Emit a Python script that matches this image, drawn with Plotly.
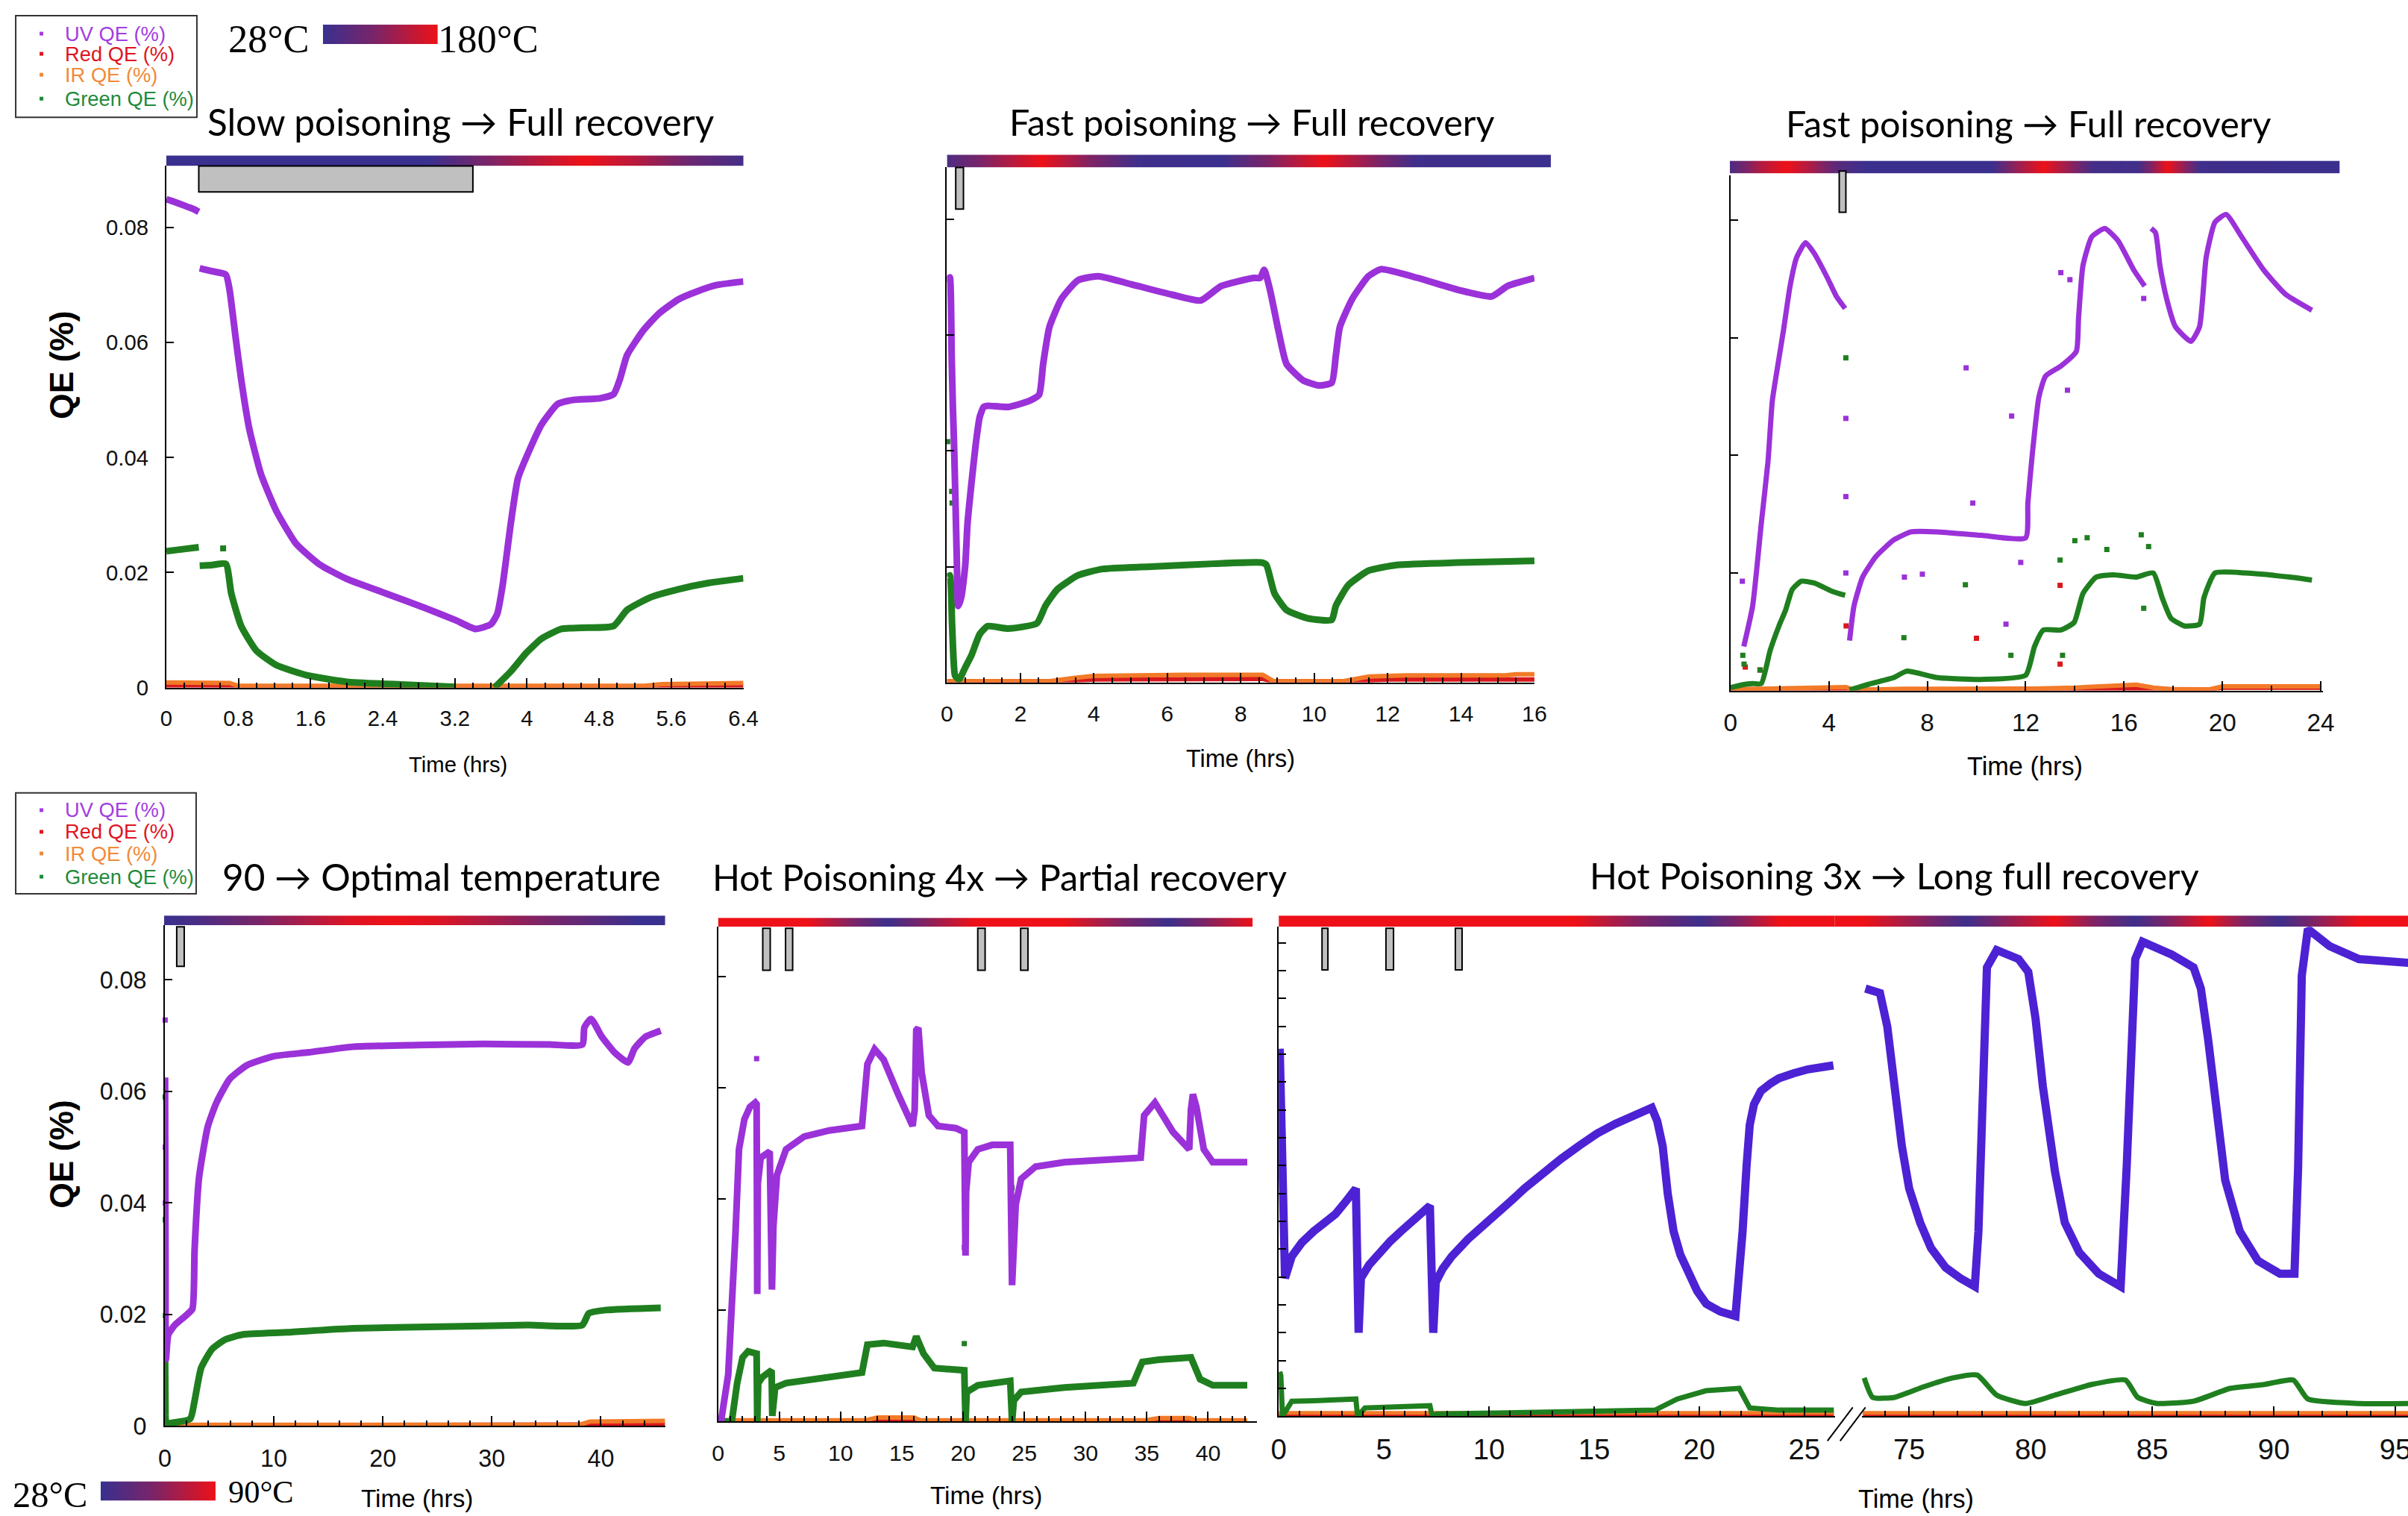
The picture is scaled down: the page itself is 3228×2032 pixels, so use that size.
import plotly.graph_objects as go

# Target picture size and the measured page->picture mapping of the viewer
# (picture = SX*(page_x) , SY*(page_y)); positions below are given in target picture pixels.
W, H = 3228, 2032
SX, SY, OX = 0.991, 0.9895, 8
FW, FH = 3250, 2054
FS = 1.0 / 0.99  # font / size compensation

# ---------------- colours ----------------
UV_COL = "#9b31d9"
UV_COL_F = "#4c22d4"
RED_COL = "#d7191c"
IR_COL = "#f27a28"
GREEN_COL = "#1f7f1f"
TEMP_SCALE = [[0.0, "#39308f"], [0.45, "#7b2468"], [1.0, "#ee1118"]]

# ---------------- data ----------------
# Panel A : Slow poisoning -> Full recovery  (time in hrs, QE in %)
A_UV_T = [0.00, 0.10, 0.20, 0.30, 0.36, None, 0.37, 0.50, 0.66, 0.70, 0.77, 0.83, 0.92, 1.05, 1.22, 1.44,
          1.70, 2.00, 2.43, 2.86, 3.21, 3.43, 3.60, 3.67, 3.73, 3.82, 3.90, 4.03, 4.16, 4.34, 4.51, 4.81,
          4.96, 5.03, 5.11, 5.29, 5.46, 5.68, 5.89, 6.11, 6.40]
A_UV_V = [0.0849, 0.0844, 0.0838, 0.0832, 0.0827, None, 0.0729, 0.0724, 0.0718, 0.0693, 0.0607, 0.0536, 0.0450,
          0.0371, 0.0307, 0.0250, 0.0214, 0.0189, 0.0164, 0.0139, 0.0117, 0.0102, 0.0110, 0.0128, 0.0178,
          0.0285, 0.0364, 0.0414, 0.0457, 0.0493, 0.0500, 0.0503, 0.0510, 0.0536, 0.0578, 0.0621, 0.0650,
          0.0675, 0.0689, 0.0700, 0.0706]
A_GREEN_T = [0.00, 0.15, 0.36, None, 0.37, 0.50, 0.66, 0.72, 0.83, 1.00, 1.22, 1.57, 2.00, 2.65, 3.21, None,
             3.64, 3.82, 3.99, 4.16, 4.38, 4.60, 4.96, 5.11, 5.37, 5.68, 6.02, 6.40]
A_GREEN_V = [0.0237, 0.0240, 0.0244, None, 0.0212, 0.0213, 0.0215, 0.0164, 0.0107, 0.0064, 0.0039, 0.0021,
             0.0010, 0.0005, 0.0001, None, 0.0000, 0.0028, 0.0060, 0.0085, 0.0102, 0.0104, 0.0107, 0.0135,
             0.0157, 0.0171, 0.0182, 0.0190]
A_GREEN_OUT_T = [0.63]
A_GREEN_OUT_V = [0.0242]
A_IR_T = [0.00, 0.70, 0.80, 5.30, 5.50, 6.40]
A_IR_V = [0.0009, 0.0008, 0.0003, 0.0003, 0.0006, 0.0008]
A_RED_T = [0.00, 0.75, 0.80, 5.80, 6.10, 6.40]
A_RED_V = [0.0003, 0.0003, 0.0001, 0.0001, 0.0003, 0.0003]

# Panel B : Fast poisoning -> Full recovery
B_UV_T = [0.02, 0.08, 0.13, 0.16, 0.19, 0.23, 0.27, 0.31, 0.40, 0.50, 0.56, 0.67, 0.78, 0.89, 1.00, 1.11,
          1.67, 2.23, 2.51, 2.62, 2.79, 3.12, 3.57, 4.12, 5.02, 6.13, 6.91, 7.47, 8.36, 8.53, 8.64, 8.80,
          9.03, 9.25, 9.70, 10.14, 10.48, 10.59, 10.70, 11.04, 11.48, 11.82, 12.82, 13.94, 14.83, 15.27, 16.00]
B_UV_V = [0.0692, 0.0700, 0.0560, 0.0480, 0.0420, 0.0320, 0.0210, 0.0132, 0.0150, 0.0203, 0.0274, 0.0345,
          0.0409, 0.0458, 0.0476, 0.0478, 0.0476, 0.0486, 0.0497, 0.0550, 0.0614, 0.0663, 0.0695, 0.0702,
          0.0688, 0.0670, 0.0660, 0.0685, 0.0699, 0.0699, 0.0713, 0.0678, 0.0607, 0.0550, 0.0522, 0.0513,
          0.0518, 0.0564, 0.0614, 0.0663, 0.0702, 0.0714, 0.0699, 0.0678, 0.0667, 0.0685, 0.0699]
B_GREEN_T = [0.02, 0.08, 0.14, 0.18, 0.22, 0.33, 0.50, 0.67, 0.89, 1.11, 1.67, 2.45, 2.68, 3.01, 3.57, 4.24,
             5.57, 7.25, 8.58, 8.70, 8.92, 9.25, 9.81, 10.48, 10.59, 10.93, 11.48, 12.26, 13.94, 16.00]
B_GREEN_V = [0.0182, 0.0185, 0.0100, 0.0040, 0.0012, 0.0005, 0.0026, 0.0047, 0.0083, 0.0097, 0.0093, 0.0102,
             0.0132, 0.0161, 0.0185, 0.0196, 0.0200, 0.0205, 0.0207, 0.0203, 0.0154, 0.0125, 0.0111, 0.0108,
             0.0132, 0.0168, 0.0193, 0.0203, 0.0207, 0.0210]
B_GREEN_OUT_T = [0.02, 0.13, 0.14]
B_GREEN_OUT_V = [0.0416, 0.0330, 0.0310]
B_IR_T = [0.0, 2.8, 3.5, 4.0, 6.5, 8.6, 8.9, 10.8, 11.5, 12.5, 15.2, 15.5, 16.0]
B_IR_V = [0.0002, 0.0002, 0.0008, 0.0011, 0.0013, 0.0013, 0.0002, 0.0002, 0.0010, 0.0012, 0.0012, 0.0014, 0.0014]
B_RED_T = [0.0, 3.0, 4.0, 8.6, 8.9, 11.0, 12.0, 16.0]
B_RED_V = [0.0001, 0.0001, 0.0005, 0.0006, 0.0001, 0.0001, 0.0005, 0.0005]

# Panel C : Fast poisoning -> Full recovery
C_UV_T = [0.54, 0.90, 1.25, 1.52, 1.70, 1.88, 2.15, 2.42, 2.69, 3.05, 3.40, 3.94, 4.30, 4.66, None,
          4.84, 5.02, 5.37, 5.91, 6.63, 7.34, 8.42, 10.21, 12.00, 12.09, 12.27, 12.54, 12.81, 13.43, 14.06,
          14.15, 14.33, 14.69, 15.22, 15.76, 16.39, 16.84, None, 17.10, 17.28, 17.46, 17.73, 18.09, 18.72,
          19.07, 19.34, 19.70, 20.15, 20.78, 21.67, 22.57, 23.64]
C_UV_V = [0.0075, 0.0144, 0.0284, 0.0388, 0.0493, 0.0542, 0.0612, 0.0688, 0.0737, 0.0762, 0.0744, 0.0702,
          0.0671, 0.0650, None, 0.0085, 0.0144, 0.0193, 0.0228, 0.0256, 0.0270, 0.0270, 0.0264, 0.0260,
          0.0319, 0.0402, 0.0500, 0.0535, 0.0552, 0.0577, 0.0633, 0.0723, 0.0772, 0.0786, 0.0765, 0.0716,
          0.0688, None, 0.0786, 0.0779, 0.0723, 0.0667, 0.0619, 0.0594, 0.0619, 0.0737, 0.0797, 0.0810,
          0.0772, 0.0716, 0.0674, 0.0647]
C_UV_OUT_T = [0.48, 4.69, 4.69, 4.69, 7.07, 7.80, 9.58, 9.85, 11.20, 11.43, 11.80, 13.43, 13.70, 13.80, 16.80]
C_UV_OUT_V = [0.0186, 0.0463, 0.0330, 0.0200, 0.0193, 0.0198, 0.0549, 0.0319, 0.0113, 0.0467, 0.0218, 0.0711,
              0.0511, 0.0699, 0.0667]
C_GREEN_T = [0.00, 0.50, 0.90, 1.25, 1.61, 1.97, 2.24, 2.51, 2.87, 3.40, 4.12, 4.66, None,
             4.84, 5.73, 6.63, 7.16, 8.42, 10.21, 12.00, 12.36, 12.72, 13.43, 13.97, 14.33, 14.87, 15.58,
             16.48, 17.19, 17.55, 17.91, 18.45, 19.07, 19.25, 19.70, 20.96, 22.75, 23.64]
C_GREEN_V = [0.0005, 0.0010, 0.0012, 0.0012, 0.0068, 0.0110, 0.0137, 0.0172, 0.0186, 0.0183, 0.0169, 0.0162,
             None, 0.0001, 0.0012, 0.0022, 0.0033, 0.0022, 0.0019, 0.0026, 0.0075, 0.0103, 0.0103, 0.0116,
             0.0165, 0.0193, 0.0197, 0.0193, 0.0200, 0.0158, 0.0123, 0.0110, 0.0113, 0.0158, 0.0200, 0.0200,
             0.0193, 0.0188]
C_GREEN_OUT_T = [0.50, 0.55, 1.20, 4.69, 7.05, 9.55, 11.40, 13.40, 13.50, 14.00, 14.50, 15.30, 16.70, 16.80, 17.00]
C_GREEN_OUT_V = [0.0060, 0.0045, 0.0035, 0.0566, 0.0090, 0.0180, 0.0060, 0.0222, 0.0060, 0.0255, 0.0260,
                 0.0240, 0.0265, 0.0140, 0.0245]
C_IR_T = [0.0, 2.0, 4.7, 5.0, 7.0, 12.0, 14.0, 16.5, 17.2, 18.0, 19.5, 20.0, 24.0]
C_IR_V = [0.0002, 0.0004, 0.0006, 0.0001, 0.0003, 0.0003, 0.0005, 0.0010, 0.0005, 0.0002, 0.0002, 0.0007, 0.0007]
C_RED_T = [0.0, 4.7, 5.0, 12.0, 19.5, 20.0, 24.0]
C_RED_V = [0.0002, 0.0003, 0.0001, 0.0003, 0.0002, 0.0005, 0.0005]
C_RED_OUT_T = [0.60, 1.20, 4.70, 10.00, 13.40, 13.40]
C_RED_OUT_V = [0.0040, 0.0035, 0.0110, 0.0089, 0.0179, 0.0045]

# Panel D : 90 -> Optimal temperature
D_UV_T = [0.02, 0.06, 0.10, 0.32, 0.92, 1.93, 2.53, 2.73, 3.13, 3.94, 4.74, 5.94, 7.55, 9.96, 13.17, 17.19,
          23.20, 29.20, 35.30, 38.30, 38.50, 39.10, 40.10, 41.30, 42.50, 43.10, 44.10, 45.50]
D_UV_V = [0.0625, 0.0300, 0.0120, 0.0164, 0.0181, 0.0198, 0.0210, 0.0316, 0.0444, 0.0537, 0.0580, 0.0622,
          0.0647, 0.0663, 0.0670, 0.0680, 0.0683, 0.0685, 0.0684, 0.0684, 0.0715, 0.0730, 0.0698, 0.0669,
          0.0652, 0.0677, 0.0698, 0.0709]
D_UV_OUT_T = [0.03, 0.04, 0.05]
D_UV_OUT_V = [0.0728, 0.0500, 0.0400]
D_GREEN_T = [0.02, 0.06, 0.10, 0.30, 2.33, 2.73, 3.33, 4.34, 5.54, 7.15, 11.20, 17.20, 25.20, 33.30, 38.30,
             38.90, 40.50, 45.50]
D_GREEN_V = [0.0130, 0.0020, 0.0007, 0.0005, 0.0013, 0.0045, 0.0104, 0.0138, 0.0155, 0.0164, 0.0168, 0.0175,
             0.0178, 0.0181, 0.0181, 0.0202, 0.0208, 0.0212]
D_GREEN_OUT_T = [0.03, 0.04, 0.05]
D_GREEN_OUT_V = [0.0590, 0.0370, 0.0198]
D_IR_T = [0.0, 38.0, 39.0, 45.9]
D_IR_V = [0.0002, 0.0002, 0.0008, 0.0009]
D_RED_T = [0.0, 38.0, 39.0, 45.9]
D_RED_V = [0.0001, 0.0001, 0.0003, 0.0003]

# Panel E : Hot poisoning 4x -> Partial recovery
E_UV_T = [0.24, 0.83, 1.42, 1.71, 2.15, 2.60, 3.04, 3.15, 3.20, 3.25, 3.48, 3.93, 4.22, 4.40, 4.52, 4.81,
          5.55, 7.03, 9.09, 11.75, 12.19, 12.78, 13.52, 14.70, 15.88, 16.05, 16.18, 16.35, 16.62, 17.21,
          17.95, 19.42, 20.10, 20.20, 20.25, 20.46, 21.20, 22.38, 23.85, 24.00, 24.30, 24.74, 25.92, 28.28,
          31.20, 34.50, 34.78, 35.66, 37.14, 38.46, 38.60, 38.76, 39.05, 39.65, 40.38, 43.20]
E_UV_V = [0.0000, 0.0084, 0.0336, 0.0489, 0.0543, 0.0565, 0.0573, 0.0570, 0.0229, 0.0428, 0.0474, 0.0481,
          0.0485, 0.0237, 0.0351, 0.0443, 0.0489, 0.0512, 0.0523, 0.0531, 0.0642, 0.0669, 0.0650, 0.0588,
          0.0531, 0.0560, 0.0703, 0.0707, 0.0627, 0.0550, 0.0531, 0.0527, 0.0520, 0.0298, 0.0413, 0.0466,
          0.0489, 0.0497, 0.0497, 0.0245, 0.0390, 0.0436, 0.0458, 0.0466, 0.0470, 0.0474, 0.0550, 0.0573,
          0.0520, 0.0489, 0.0560, 0.0588, 0.0565, 0.0489, 0.0466, 0.0466]
E_UV_OUT_T = [3.15, 20.10]
E_UV_OUT_V = [0.0652, 0.0313]
E_GREEN_T = [0.00, 1.12, 1.56, 2.00, 2.45, 3.15, 3.20, 3.28, 3.63, 4.37, 4.43, 4.66, 5.55, 7.62, 11.75,
             12.19, 13.52, 15.88, 16.18, 16.77, 17.65, 20.10, 20.20, 20.30, 21.20, 23.85, 24.00, 24.15, 24.74,
             28.28, 33.90, 34.63, 35.96, 38.60, 39.35, 40.38, 43.20]
E_GREEN_V = [0.0000, 0.0000, 0.0069, 0.0115, 0.0126, 0.0122, 0.0000, 0.0069, 0.0080, 0.0092, 0.0010, 0.0061,
             0.0069, 0.0076, 0.0088, 0.0138, 0.0141, 0.0134, 0.0153, 0.0122, 0.0096, 0.0092, 0.0000, 0.0053,
             0.0065, 0.0073, 0.0000, 0.0038, 0.0053, 0.0061, 0.0069, 0.0107, 0.0111, 0.0115, 0.0076, 0.0065,
             0.0065]
E_GREEN_OUT_T = [3.15, 4.30, 20.10, 24.00]
E_GREEN_OUT_V = [0.0569, 0.0367, 0.0140, 0.0420]
E_IR_T = [0.0, 12.0, 13.0, 16.0, 16.5, 34.8, 36.0, 38.5, 39.0, 43.2]
E_IR_V = [0.0002, 0.0002, 0.0007, 0.0007, 0.0002, 0.0002, 0.0006, 0.0006, 0.0002, 0.0002]
E_RED_T = [0.0, 12.0, 13.0, 16.0, 16.5, 34.8, 36.0, 38.5, 39.0, 43.2]
E_RED_V = [0.0001, 0.0001, 0.0004, 0.0004, 0.0001, 0.0001, 0.0003, 0.0003, 0.0001, 0.0001]

# Panel F : Hot poisoning 3x -> Long full recovery (broken time axis)
F_UV_T = [0.05, 0.10, 0.20, 0.30, 0.62, 1.10, 1.66, 2.20, 2.70, 3.20, 3.67, 3.80, 3.91, 4.30, 4.77, 5.30,
          5.81, 6.50, 7.19, 7.35, 7.47, 7.80, 8.23, 9.00, 9.96, 11.00, 11.69, 12.50, 13.42, 14.30, 15.15,
          16.00, 16.87, 17.74, 18.00, 18.26, 18.50, 18.78, 19.10, 19.47, 19.90, 20.33, 21.00, 21.72, 21.90,
          22.06, 22.25, 22.40, 22.60, 22.93, 23.40, 23.79, 24.50, 25.17, 26.38]
F_UV_V = [0.0660, 0.0600, 0.0400, 0.0248, 0.0287, 0.0312, 0.0332, 0.0348, 0.0363, 0.0386, 0.0409, 0.0150,
          0.0248, 0.0272, 0.0294, 0.0314, 0.0332, 0.0355, 0.0378, 0.0150, 0.0241, 0.0265, 0.0287, 0.0318,
          0.0348, 0.0385, 0.0409, 0.0435, 0.0462, 0.0486, 0.0508, 0.0525, 0.0539, 0.0554, 0.0530, 0.0485,
          0.0400, 0.0332, 0.0290, 0.0256, 0.0225, 0.0202, 0.0188, 0.0180, 0.0250, 0.0332, 0.0450, 0.0523,
          0.0560, 0.0584, 0.0598, 0.0607, 0.0616, 0.0623, 0.0630]
F_UV_LATE_T = [73.20, 73.80, 74.10, 74.40, 74.70, 75.00, 75.45, 75.90, 76.50, 77.10, 77.70, 77.85, 78.00,
               78.20, 78.60, 79.50, 79.90, 80.20, 80.50, 81.00, 81.40, 82.00, 82.80, 83.70, 83.95, 84.30,
               84.60, 85.80, 86.70, 87.00, 87.30, 87.60, 88.00, 88.60, 89.35, 90.25, 90.85, 91.00, 91.15,
               91.40, 92.30, 93.50, 94.70, 95.60]
F_UV_LATE_V = [0.0768, 0.0760, 0.0700, 0.0592, 0.0485, 0.0409, 0.0348, 0.0302, 0.0267, 0.0248, 0.0233,
               0.0332, 0.0560, 0.0806, 0.0837, 0.0821, 0.0798, 0.0714, 0.0592, 0.0439, 0.0348, 0.0294,
               0.0256, 0.0233, 0.0450, 0.0821, 0.0852, 0.0829, 0.0806, 0.0768, 0.0676, 0.0562, 0.0424,
               0.0332, 0.0279, 0.0256, 0.0256, 0.0447, 0.0791, 0.0875, 0.0844, 0.0821, 0.0818, 0.0814]
F_GREEN_T = [0.05, 0.10, 0.18, 0.62, 1.66, 3.67, 3.75, 4.10, 7.19, 7.30, 7.50, 13.42, 17.90, 18.95, 20.33,
             21.90, 22.40, 23.80, 26.40]
F_GREEN_V = [0.0080, 0.0073, 0.0000, 0.0027, 0.0028, 0.0031, 0.0000, 0.0015, 0.0019, 0.0000, 0.0004, 0.0008,
             0.0011, 0.0031, 0.0046, 0.0050, 0.0015, 0.0011, 0.0011]
F_GREEN_LATE_T = [73.15, 73.50, 74.40, 75.60, 76.80, 77.80, 78.60, 79.80, 81.00, 82.50, 83.90, 84.40, 85.20,
                  86.70, 88.20, 89.60, 90.80, 91.40, 93.50, 95.60]
F_GREEN_LATE_V = [0.0069, 0.0034, 0.0034, 0.0053, 0.0069, 0.0074, 0.0038, 0.0023, 0.0038, 0.0057, 0.0065,
                  0.0034, 0.0023, 0.0027, 0.0050, 0.0057, 0.0065, 0.0031, 0.0023, 0.0023]
F_IR_T = [0.0, 26.4]
F_IR_V = [0.0006, 0.0006]
F_IR_LATE_T = [73.1, 95.6]
F_IR_LATE_V = [0.0006, 0.0006]
F_RED_T = [0.0, 26.4]
F_RED_V = [0.0003, 0.0003]
F_RED_LATE_T = [73.1, 95.6]
F_RED_LATE_V = [0.0003, 0.0003]

# Temperature strips (time in hrs, temperature in deg C)
A_TEMP_T = [0.0, 2.9, 3.5, 4.2, 4.64, 5.2, 5.8, 6.4]
A_TEMP_C = [28, 28, 90, 150, 180, 140, 80, 40]
B_TEMP_T = [0.0, 1.2, 2.56, 3.9, 5.2, 7.5, 8.6, 10.26, 11.7, 12.8, 16.45]
B_TEMP_C = [50, 110, 180, 100, 35, 30, 90, 180, 100, 35, 30]
C_TEMP_T = [0.0, 1.3, 2.3, 3.3, 4.4, 5.5, 10.6, 11.5, 12.7, 13.8, 14.7, 16.5, 17.7, 18.6, 19.0, 24.7]
C_TEMP_C = [50, 140, 180, 130, 60, 30, 30, 110, 180, 110, 40, 35, 180, 90, 35, 30]
D_TEMP_T = [0.0, 3.0, 10.0, 17.0, 21.0, 25.0, 35.0, 42.5, 43.0, 45.9]
D_TEMP_C = [28, 35, 60, 85, 90, 85, 55, 32, 28, 28]
E_TEMP_T = [0.0, 7.3, 10.6, 13.8, 17.1, 20.9, 28.3, 32.7, 36.8, 40.1, 43.7]
E_TEMP_C = [90, 90, 60, 30, 60, 90, 90, 60, 30, 60, 90]
F_TEMP_T = [0.0, 14.1, 16.9, 20.0, 22.0, 23.8, 27.1]
F_TEMP_C = [90, 90, 60, 30, 60, 90, 90]
F_TEMP_LATE_T = [72.0, 73.2, 75.6, 77.4, 78.9, 81.0, 82.5, 84.3, 85.8, 87.3, 88.6, 90.2, 91.8, 93.5, 95.6]
F_TEMP_LATE_C = [90, 90, 60, 30, 60, 90, 60, 30, 60, 90, 60, 30, 60, 90, 90]
TOP_TEMP_RANGE = [28, 180]
BOTTOM_TEMP_RANGE = [28, 90]

# Poisoning (gas exposure) intervals, hrs
A_POISON = [(0.36, 3.40)]
B_POISON = [(0.24, 0.45)]
C_POISON = [(4.42, 4.69)]
D_POISON = [(1.09, 1.78)]
E_POISON = [(3.65, 4.26), (5.51, 6.09), (21.2, 21.8), (24.7, 25.3)]
F_POISON = [(2.06, 2.34), (5.10, 5.46), (8.40, 8.72)]

# Tick values / labels
A_XTICKS = [0, 0.8, 1.6, 2.4, 3.2, 4, 4.8, 5.6, 6.4]
A_XLABELS = ["0", "0.8", "1.6", "2.4", "3.2", "4", "4.8", "5.6", "6.4"]
B_XTICKS = [0, 2, 4, 6, 8, 10, 12, 14, 16]
C_XTICKS = [0, 4, 8, 12, 16, 20, 24]
D_XTICKS = [0, 10, 20, 30, 40]
E_XTICKS = [0, 5, 10, 15, 20, 25, 30, 35, 40]
F_XTICKS = [0, 5, 10, 15, 20, 25]
F_LATE_XTICKS = [75, 80, 85, 90, 95]
QE_YTICKS = [0, 0.02, 0.04, 0.06, 0.08]
QE_YLABELS = ["0", "0.02", "0.04", "0.06", "0.08"]

SERIES_NAMES = ["UV QE (%)", "Red QE (%)", "IR QE (%)", "Green QE (%)"]
SERIES_TEXT_COLS = ["#a23ee0", "#e0141e", "#f08a3a", "#1f8a3a"]

# ---------------- helpers ----------------
fig = go.Figure()
layout = {}


def sfx(n):
    return "" if n == 1 else str(n)


def fx(px):
    return min(1.0, max(0.0, (px / SX - OX) / FW))


def fy(py):
    return min(1.0, max(0.0, 1 - (py / SY) / FH))


def xdom(a, b):
    return [fx(a), fx(b)]


def ydom(top, bottom):
    return [fy(bottom), fy(top)]


def fsz(s):
    return round(s * FS, 1)


AX_BASE = dict(showline=True, linecolor="black", linewidth=2, ticks="inside", tickcolor="black",
               tickwidth=2, showgrid=False, zeroline=False, fixedrange=True)


def panel(n, xpx, ypx, xr, yr, xticks, xlabels, minor_dt, yticks, ylabels, fsize, show_y=True,
          xstandoff=10):
    xa = dict(AX_BASE, domain=xdom(*xpx), range=xr, anchor="y" + sfx(n), tickvals=xticks,
              ticktext=xlabels, ticklen=13,
              tickfont=dict(family="Liberation Sans, Arial", size=fsz(fsize), color="#111"),
              ticklabelstandoff=xstandoff,
              minor=dict(dtick=minor_dt, ticks="inside", ticklen=7, tickcolor="black", tickwidth=1.5,
                         showgrid=False))
    ya = dict(AX_BASE, domain=ydom(*ypx), range=yr, anchor="x" + sfx(n), ticklen=10,
              tickfont=dict(family="Liberation Sans, Arial", size=fsz(fsize), color="#111"),
              ticklabelstandoff=16)
    if show_y:
        ya.update(tickvals=yticks, ticktext=ylabels if ylabels else None,
                  showticklabels=ylabels is not None)
    else:
        ya.update(showline=False, ticks="", showticklabels=False)
    layout["xaxis" + sfx(n)] = xa
    layout["yaxis" + sfx(n)] = ya


def hidden_axes(n, xpx, ypx, xr, yr):
    layout["xaxis" + sfx(n)] = dict(domain=xdom(*xpx), range=xr, visible=False, fixedrange=True,
                                    anchor="y" + sfx(n))
    layout["yaxis" + sfx(n)] = dict(domain=ydom(*ypx), range=yr, visible=False, fixedrange=True,
                                    anchor="x" + sfx(n))


def line(n, t, v, color, width=9, smooth=True):
    ln = dict(color=color, width=width)
    if smooth:
        ln.update(shape="spline", smoothing=0.5)
    fig.add_trace(go.Scatter(x=t, y=v, mode="lines", line=ln,
                             connectgaps=False, hoverinfo="skip", showlegend=False,
                             xaxis="x" + sfx(n), yaxis="y" + sfx(n)))


def dots(n, t, v, color, size=7):
    fig.add_trace(go.Scatter(x=t, y=v, mode="markers",
                             marker=dict(color=color, size=size, symbol="square", line=dict(width=0)),
                             hoverinfo="skip", showlegend=False, cliponaxis=False,
                             xaxis="x" + sfx(n), yaxis="y" + sfx(n)))


def strip(n, t, temps, trange):
    fig.add_trace(go.Heatmap(x=t, y=[0, 1], z=[temps, temps], zsmooth="best", colorscale=TEMP_SCALE,
                             zmin=trange[0], zmax=trange[1], showscale=False, hoverinfo="skip",
                             xaxis="x" + sfx(n), yaxis="y" + sfx(n)))


shapes = []
annotations = []


def poison_boxes(n, intervals, ybot, ytop):
    for (a, b) in intervals:
        shapes.append(dict(type="rect", xref="x" + sfx(n), yref="y" + sfx(n) + " domain",
                           x0=a, x1=b, y0=ybot, y1=ytop, fillcolor="#c0c0c0",
                           line=dict(color="black", width=2), layer="above"))


def text(x, y, s, size, family="Liberation Sans, Arial", color="black", angle=0, xanchor="center",
         bold=False):
    annotations.append(dict(x=fx(x), y=fy(y), xref="paper", yref="paper",
                            text=("<b>%s</b>" % s) if bold else s,
                            showarrow=False, xanchor=xanchor, yanchor="middle", textangle=angle,
                            font=dict(family=family, size=fsz(size), color=color)))


# ---------------- panels ----------------
panel(1, (220, 994), (222, 920), [0, 6.4], [0, 0.0907], A_XTICKS, A_XLABELS, 0.2, QE_YTICKS, QE_YLABELS, 29,
      xstandoff=14)
panel(2, (1267, 2055), (224, 913), [0, 16], [0, 0.0890], B_XTICKS, [str(v) for v in B_XTICKS], 0.5,
      QE_YTICKS, None, 30, xstandoff=14)
panel(3, (2318, 3113), (235, 924), [0, 24.1], [0, 0.0876], C_XTICKS, [str(v) for v in C_XTICKS], 2,
      QE_YTICKS, None, 33, xstandoff=12)
panel(4, (218, 889), (1238, 1908), [0, 45.9], [0, 0.0898], D_XTICKS, [str(v) for v in D_XTICKS], 2,
      QE_YTICKS, QE_YLABELS, 32, xstandoff=14)
panel(5, (960, 1683), (1240, 1902), [0, 44.0], [0, 0.0889], E_XTICKS, [str(v) for v in E_XTICKS], 1,
      QE_YTICKS, None, 30, xstandoff=14)
F_YTICKS = [i * 0.005 for i in range(18)]
panel(6, (1712, 2458), (1240, 1895), [0, 26.45], [0, 0.0879], F_XTICKS, [str(v) for v in F_XTICKS], 1,
      F_YTICKS, None, 38, xstandoff=10)
panel(7, (2494, 3228), (1240, 1895), [73.05, 95.56], [0, 0.0879], F_LATE_XTICKS,
      [str(v) for v in F_LATE_XTICKS], 1, F_YTICKS, None, 38, show_y=False, xstandoff=10)

# strips and colour legends
hidden_axes(8, (220, 994), (208, 222), [A_TEMP_T[0], A_TEMP_T[-1]], [0, 1])
hidden_axes(9, (1267, 2077), (207, 224), [B_TEMP_T[0], B_TEMP_T[-1]], [0, 1])
hidden_axes(10, (2317, 3135), (215, 232), [C_TEMP_T[0], C_TEMP_T[-1]], [0, 1])
hidden_axes(11, (217, 889), (1225, 1238), [D_TEMP_T[0], D_TEMP_T[-1]], [0, 1])
hidden_axes(12, (960, 1677), (1228, 1240), [E_TEMP_T[0], E_TEMP_T[-1]], [0, 1])
hidden_axes(13, (1712, 2458), (1225, 1240), [0, 26.45], [0, 1])
hidden_axes(14, (2458, 3228), (1225, 1240), [72.0, 95.56], [0, 1])
hidden_axes(15, (430, 584), (33, 59), TOP_TEMP_RANGE, [0, 1])
hidden_axes(16, (132, 286), (1982, 2008), BOTTOM_TEMP_RANGE, [0, 1])

strip(8, A_TEMP_T, A_TEMP_C, TOP_TEMP_RANGE)
strip(9, B_TEMP_T, B_TEMP_C, TOP_TEMP_RANGE)
strip(10, C_TEMP_T, C_TEMP_C, TOP_TEMP_RANGE)
strip(11, D_TEMP_T, D_TEMP_C, BOTTOM_TEMP_RANGE)
strip(12, E_TEMP_T, E_TEMP_C, BOTTOM_TEMP_RANGE)
strip(13, F_TEMP_T, F_TEMP_C, BOTTOM_TEMP_RANGE)
strip(14, F_TEMP_LATE_T, F_TEMP_LATE_C, BOTTOM_TEMP_RANGE)
strip(15, TOP_TEMP_RANGE, TOP_TEMP_RANGE, TOP_TEMP_RANGE)
strip(16, BOTTOM_TEMP_RANGE, BOTTOM_TEMP_RANGE, BOTTOM_TEMP_RANGE)

# data traces
line(1, A_RED_T, A_RED_V, RED_COL, 6, False); line(1, A_IR_T, A_IR_V, IR_COL, 6, False)
line(1, A_GREEN_T, A_GREEN_V, GREEN_COL); dots(1, A_GREEN_OUT_T, A_GREEN_OUT_V, GREEN_COL, 8)
line(1, A_UV_T, A_UV_V, UV_COL)

line(2, B_RED_T, B_RED_V, RED_COL, 6, False); line(2, B_IR_T, B_IR_V, IR_COL, 6, False)
line(2, B_GREEN_T, B_GREEN_V, GREEN_COL); dots(2, B_GREEN_OUT_T, B_GREEN_OUT_V, GREEN_COL)
line(2, B_UV_T, B_UV_V, UV_COL)

line(3, C_RED_T, C_RED_V, RED_COL, 6, False); line(3, C_IR_T, C_IR_V, IR_COL, 6, False)
dots(3, C_RED_OUT_T, C_RED_OUT_V, RED_COL)
line(3, C_GREEN_T, C_GREEN_V, GREEN_COL, 7); dots(3, C_GREEN_OUT_T, C_GREEN_OUT_V, GREEN_COL)
line(3, C_UV_T, C_UV_V, UV_COL, 7); dots(3, C_UV_OUT_T, C_UV_OUT_V, UV_COL)

line(4, D_RED_T, D_RED_V, RED_COL, 6, False); line(4, D_IR_T, D_IR_V, IR_COL, 6, False)
line(4, D_GREEN_T, D_GREEN_V, GREEN_COL); dots(4, D_GREEN_OUT_T, D_GREEN_OUT_V, GREEN_COL)
line(4, D_UV_T, D_UV_V, UV_COL); dots(4, D_UV_OUT_T, D_UV_OUT_V, UV_COL)

line(5, E_RED_T, E_RED_V, RED_COL, 6, False); line(5, E_IR_T, E_IR_V, IR_COL, 6, False)
line(5, E_GREEN_T, E_GREEN_V, GREEN_COL, 9, False); dots(5, E_GREEN_OUT_T, E_GREEN_OUT_V, GREEN_COL)
line(5, E_UV_T, E_UV_V, UV_COL, 9, False); dots(5, E_UV_OUT_T, E_UV_OUT_V, UV_COL)

line(6, F_RED_T, F_RED_V, RED_COL, 5, False); line(6, F_IR_T, F_IR_V, IR_COL, 5, False)
line(6, F_GREEN_T, F_GREEN_V, GREEN_COL, 7, False)
line(6, F_UV_T, F_UV_V, UV_COL_F, 11, False)
line(7, F_RED_LATE_T, F_RED_LATE_V, RED_COL, 5, False); line(7, F_IR_LATE_T, F_IR_LATE_V, IR_COL, 5, False)
line(7, F_GREEN_LATE_T, F_GREEN_LATE_V, GREEN_COL, 7)
line(7, F_UV_LATE_T, F_UV_LATE_V, UV_COL_F, 11, False)

# poisoning markers
poison_boxes(1, A_POISON, 0.95, 1.0)
poison_boxes(2, B_POISON, 0.919, 1.0)
poison_boxes(3, C_POISON, 0.929, 1.009)
poison_boxes(4, D_POISON, 0.918, 0.997)
poison_boxes(5, E_POISON, 0.912, 0.997)
poison_boxes(6, F_POISON, 0.912, 0.997)

# axis break marks
for (x0, x1) in [(2448, 2482), (2465, 2499)]:
    shapes.append(dict(type="line", xref="paper", yref="paper", x0=fx(x0), x1=fx(x1),
                       y0=fy(1928), y1=fy(1883), line=dict(color="black", width=2)))

# titles
TITLE_FONT = "Lato, Open Sans, sans-serif"
text(615, 163, "Slow poisoning → Full recovery", 49, TITLE_FONT)
text(1676, 163, "Fast poisoning → Full recovery", 48, TITLE_FONT)
text(2717, 165, "Fast poisoning → Full recovery", 48, TITLE_FONT)
text(589, 1173, "90 → Optimal temperature", 49, TITLE_FONT)
text(1338, 1173, "Hot Poisoning 4x → Partial recovery", 48, TITLE_FONT)
text(2538, 1171, "Hot Poisoning 3x → Long full recovery", 48, TITLE_FONT)

# axis titles
text(611, 1023, "Time (hrs)", 29)
text(1661, 1015, "Time (hrs)", 32)
text(2713, 1025, "Time (hrs)", 34)
text(556, 2005, "Time (hrs)", 33)
text(1320, 2001, "Time (hrs)", 33)
text(2567, 2005, "Time (hrs)", 34)
text(80, 488, "QE (%)", 44, angle=-90, bold=True)
text(80, 1544, "QE (%)", 44, angle=-90, bold=True)

# temperature colour legends
SERIF = "Liberation Serif, Times New Roman, serif"
text(358, 52, "28°C", 52, SERIF)
text(652, 52, "180°C", 52, SERIF)
text(64, 2000, "28°C", 48, SERIF)
text(347, 1996, "90°C", 42, SERIF)

# series legends (two boxes)
for (bx0, by0, bx1, by1, rows) in [(18, 21, 261, 157, [45, 72, 100, 132]),
                                  (18, 1061, 260, 1196, [1084, 1113, 1142, 1173])]:
    shapes.append(dict(type="rect", xref="paper", yref="paper", x0=fx(bx0), x1=fx(bx1),
                       y0=fy(by1), y1=fy(by0), line=dict(color="#333", width=2),
                       fillcolor="rgba(0,0,0,0)"))
    for name, col, ry in zip(SERIES_NAMES, SERIES_TEXT_COLS, rows):
        shapes.append(dict(type="rect", xref="paper", yref="paper", x0=fx(50), x1=fx(55),
                           y0=fy(ry + 2.5), y1=fy(ry - 2.5), fillcolor=col,
                           line=dict(width=0)))
        text(82, ry, name, 27, color=col, xanchor="left")

layout.update(width=FW, height=FH, margin=dict(l=0, r=0, t=0, b=0, pad=0), paper_bgcolor="white",
              plot_bgcolor="rgba(0,0,0,0)", showlegend=False, hovermode=False, shapes=shapes,
              annotations=annotations)
fig.update_layout(**layout)
fig.write_html("out.html")
